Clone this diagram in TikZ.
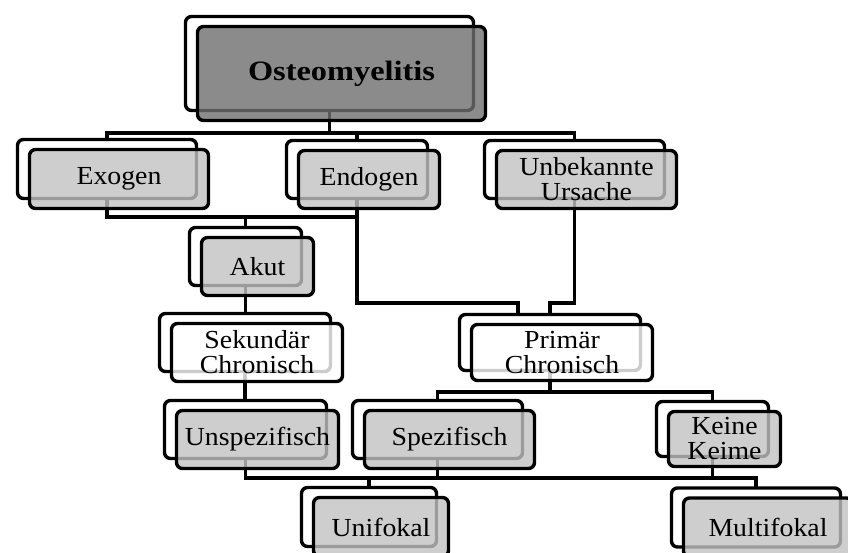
\documentclass[tikz,border=0pt]{standalone}
\usepackage{fontspec}
\setmainfont[FakeStretch=1.07]{Liberation Serif}
\usepackage{graphicx}
\usetikzlibrary{calc}
\pgfdeclarelayer{bg}
\pgfsetlayers{bg,main}
\definecolor{boxgray}{HTML}{C2C2C2}
\definecolor{boxdark}{HTML}{6F6F6F}
\tikzset{
  backbox/.style={draw, line width=3.4pt, rounded corners=6pt, fill=white, inner sep=0pt, outer sep=0pt},
  frontbox/.style={backbox, fill=#1, fill opacity=0.8, text opacity=1, align=center, font=\fontsize{26}{25}\selectfont},
  conn/.style={draw, line width=3.2pt},
}
\newcommand\pairbox[7]{%
  \node[backbox, minimum width=#4pt, minimum height=#5pt] (#1B) at ({#2-12},{#3-10}) {};
  \node[frontbox=#6, minimum width=#4pt, minimum height=#5pt] (#1) at (#2,#3) {#7};}
\begin{document}
\begin{tikzpicture}[x=1pt,y=-1pt]
\useasboundingbox (0,0) rectangle (848,552);
\clip (0,0) rectangle (848,552);
\pairbox{osteo}{341.5}{73.5}{288}{94}{boxdark}{\scalebox{1.08}[1]{\bfseries\fontsize{28}{30}\selectfont Osteomyelitis}}
\pairbox{exo}{119}{179}{179}{59}{boxgray}{Exogen}
\pairbox{endo}{369}{179.5}{141}{58}{boxgray}{Endogen}
\pairbox{unbek}{586.5}{179.5}{180}{58}{boxgray}{Unbekannte\\Ursache}
\pairbox{akut}{257.5}{266.5}{112}{58}{boxgray}{Akut}
\pairbox{sek}{257}{352.5}{171}{58}{white}{Sekundär\\Chronisch}
\pairbox{prim}{562}{352.5}{181}{56}{white}{Primär\\Chronisch}
\pairbox{unsp}{257.5}{439.5}{162}{58}{boxgray}{Unspezifisch}
\pairbox{spez}{449.5}{439.5}{170}{58}{boxgray}{Spezifisch}
\pairbox{keine}{724.5}{439}{112}{55}{boxgray}{Keine\\Keime}
\pairbox{unif}{381}{527}{135}{59}{boxgray}{Unifokal}
\pairbox{multi}{768}{527.5}{169}{59}{boxgray}{Multifokal}
\coordinate (L1) at (0,133);
\coordinate (L2) at (0,217);
\coordinate (L3) at (0,303);
\coordinate (L4) at (0,392);
\coordinate (L5) at (0,478);
\begin{pgfonlayer}{bg}
\foreach \c in {exoB,endoB,unbekB}
  \draw[conn] (osteoB.south) -- (osteoB.south |- L1) -| (\c.north);
\foreach \p in {exoB,endoB}
  \draw[conn] (\p.south) -- (\p.south |- L2) -| (akutB.north);
\draw[conn] (endoB.south) -- (endoB.south |- L3) -| ($(primB.north)+(-32,0)$);
\draw[conn] (unbekB.south) -- (unbekB.south |- L3) -| (primB.north);
\draw[conn] (akutB.south) -- (akutB.south |- sekB.north);
\draw[conn] (sekB.south) -- (sekB.south |- unspB.north);
\foreach \c in {spezB,keineB}
  \draw[conn] (primB.south) -- (primB.south |- L4) -| (\c.north);
\draw[conn] (unspB.south) -- (unspB.south |- L5) -| (unifB.north);
\draw[conn] (spezB.south) -- (spezB.south |- L5) -| (unifB.north);
\draw[conn] (spezB.south) -- (spezB.south |- L5) -| (multiB.north);
\draw[conn] (keineB.south) -- (keineB.south |- L5) -| (multiB.north);
\end{pgfonlayer}
\end{tikzpicture}
\end{document}
